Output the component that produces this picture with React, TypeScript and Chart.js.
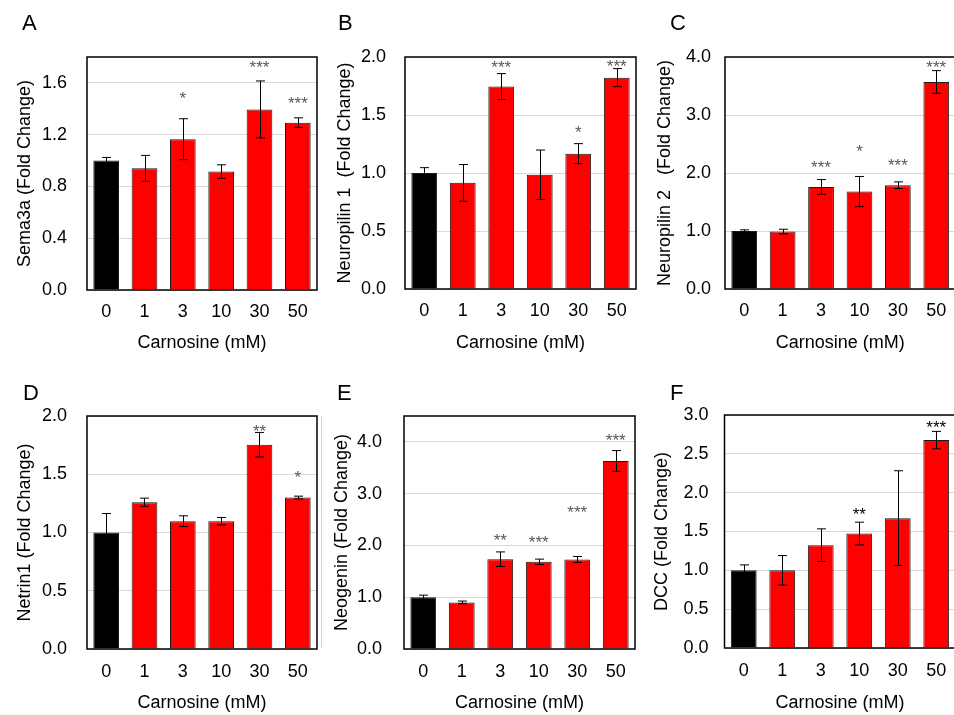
import React, { useEffect, useRef } from "react";
import { Chart, registerables } from "chart.js";

Chart.register(...registerables);

// ---------------- DATA ----------------
const categories = ["0", "1", "3", "10", "30", "50"];
const xAxisTitle = "Carnosine (mM)";

const semaValues = [1.0, 0.94, 1.165, 0.915, 1.395, 1.293];
const semaErrors = [0.024, 0.1, 0.158, 0.052, 0.22, 0.037];
const semaSig = ["", "", "*", "", "***", "***"];
const semaSigY = [null, null, 1.515, null, 1.755, 1.476];

const nrp1Values = [1.0, 0.915, 1.745, 0.985, 1.167, 1.822];
const nrp1Errors = [0.046, 0.158, 0.112, 0.213, 0.086, 0.078];
const nrp1Sig = ["", "", "***", "", "*", "***"];
const nrp1SigY = [null, null, 1.948, null, 1.383, 1.957];

const nrp2Values = [1.0, 0.99, 1.76, 1.68, 1.79, 3.57];
const nrp2Errors = [0.02, 0.04, 0.127, 0.26, 0.057, 0.195];
const nrp2Sig = ["", "", "***", "*", "***", "***"];
const nrp2SigY = [null, null, 2.16, 2.45, 2.2, 3.89];

const netrinValues = [1.0, 1.26, 1.097, 1.097, 1.754, 1.3];
const netrinErrors = [0.163, 0.035, 0.046, 0.032, 0.105, 0.012];
const netrinSig = ["", "", "", "", "**", "*"];
const netrinSigY = [null, null, null, null, 1.906, 1.506];

const neogeninValues = [1.0, 0.9, 1.735, 1.684, 1.729, 3.632];
const neogeninErrors = [0.04, 0.026, 0.14, 0.052, 0.058, 0.2];
const neogeninSig = ["", "", "**", "***", "***", "***"];
const neogeninSigY = [null, null, 2.17, 2.14, 2.72, 4.1];

const dccValues = [1.0, 1.0, 1.324, 1.474, 1.672, 2.677];
const dccErrors = [0.07, 0.19, 0.21, 0.146, 0.61, 0.112];
const dccSig = ["", "", "", "**", "", "***"];
const dccSigY = [null, null, null, 1.775, null, 2.89];

// ---------------- STYLE / LAYOUT ----------------
const FONT = "'Liberation Sans', Arial, Helvetica, sans-serif";
const baseFont = { family: FONT, size: 18 };

type PanelDef = {
  letter: string;
  yTitle: string;
  values: number[];
  errors: number[];
  sig: string[];
  sigY: (number | null)[];
  yMax: number;
  yStep: number;
  sigColor: string;
  // layout
  cx: number; cy: number; w: number; h: number;
  plotLeft: number; plotTop: number; plotRight: number; plotBottom: number;
  yTickPad: number; yTitlePad: number; xTickPad: number;
  letterX: number; letterY: number;
};

const panels: PanelDef[] = [
  {
    letter: "A", yTitle: "Sema3a (Fold Change)",
    values: semaValues, errors: semaErrors, sig: semaSig, sigY: semaSigY,
    yMax: 1.8, yStep: 0.4, sigColor: "#595959",
    cx: 0, cy: 0, w: 320, h: 355,
    plotLeft: 87, plotTop: 57, plotRight: 317, plotBottom: 290,
    yTickPad: 20, yTitlePad: 14, xTickPad: 11, letterX: 22, letterY: 30,
  },
  {
    letter: "B", yTitle: "Neuropilin 1  (Fold Change)",
    values: nrp1Values, errors: nrp1Errors, sig: nrp1Sig, sigY: nrp1SigY,
    yMax: 2.0, yStep: 0.5, sigColor: "#595959",
    cx: 320, cy: 0, w: 320, h: 355,
    plotLeft: 85, plotTop: 57, plotRight: 316, plotBottom: 289,
    yTickPad: 19, yTitlePad: 14, xTickPad: 11, letterX: 18, letterY: 30,
  },
  {
    letter: "C", yTitle: "Neuropilin 2   (Fold Change)",
    values: nrp2Values, errors: nrp2Errors, sig: nrp2Sig, sigY: nrp2SigY,
    yMax: 4.0, yStep: 1.0, sigColor: "#595959",
    cx: 640, cy: 0, w: 320, h: 355,
    plotLeft: 85, plotTop: 57, plotRight: 315.5, plotBottom: 289,
    yTickPad: 14, yTitlePad: 14, xTickPad: 11, letterX: 30, letterY: 30,
  },
  {
    letter: "D", yTitle: "Netrin1 (Fold Change)",
    values: netrinValues, errors: netrinErrors, sig: netrinSig, sigY: netrinSigY,
    yMax: 2.0, yStep: 0.5, sigColor: "#595959",
    cx: 0, cy: 355, w: 320, h: 360,
    plotLeft: 87, plotTop: 61, plotRight: 318, plotBottom: 294,
    yTickPad: 20, yTitlePad: 14, xTickPad: 12, letterX: 23, letterY: 45,
  },
  {
    letter: "E", yTitle: "Neogenin (Fold Change)",
    values: neogeninValues, errors: neogeninErrors, sig: neogeninSig, sigY: neogeninSigY,
    yMax: 4.5, yStep: 1.0, sigColor: "#595959",
    cx: 320, cy: 355, w: 320, h: 360,
    plotLeft: 84, plotTop: 61, plotRight: 315, plotBottom: 294,
    yTickPad: 22, yTitlePad: 11.7, xTickPad: 12, letterX: 17, letterY: 45,
  },
  {
    letter: "F", yTitle: "DCC (Fold Change)",
    values: dccValues, errors: dccErrors, sig: dccSig, sigY: dccSigY,
    yMax: 3.0, yStep: 0.5, sigColor: "#000000",
    cx: 640, cy: 355, w: 320, h: 360,
    plotLeft: 84.5, plotTop: 60, plotRight: 315.5, plotBottom: 293,
    yTickPad: 16, yTitlePad: 11.7, xTickPad: 12, letterX: 30, letterY: 45,
  },
];

function makeDecor(p: PanelDef) {
  return {
    id: "decor" + p.letter,
    afterDatasetsDraw(chart: any) {
      const ctx = chart.ctx as CanvasRenderingContext2D;
      const y = chart.scales.y;
      const meta = chart.getDatasetMeta(0);
      const area = chart.chartArea;
      ctx.save();
      // error bars
      ctx.strokeStyle = "#000000";
      ctx.lineWidth = 1;
      meta.data.forEach((bar: any, i: number) => {
        const x = Math.round(bar.x) + 0.5;
        const hi = y.getPixelForValue(p.values[i] + p.errors[i]);
        const lo = y.getPixelForValue(p.values[i] - p.errors[i]);
        ctx.beginPath();
        ctx.moveTo(x, lo);
        ctx.lineTo(x, hi);
        ctx.moveTo(x - 4.5, hi);
        ctx.lineTo(x + 4.5, hi);
        ctx.moveTo(x - 4.5, lo);
        ctx.lineTo(x + 4.5, lo);
        ctx.stroke();
      });
      // significance stars
      const fs = 17;
      ctx.fillStyle = p.sigColor;
      ctx.font = `${fs}px ${FONT}`;
      ctx.textAlign = "center";
      ctx.textBaseline = "alphabetic";
      meta.data.forEach((bar: any, i: number) => {
        const s = p.sig[i];
        const sy = p.sigY[i];
        if (!s || sy == null) return;
        const py = y.getPixelForValue(sy);
        ctx.fillText(s, bar.x, py + 0.575 * fs);
      });
      // plot frame
      ctx.strokeStyle = "#000000";
      ctx.lineWidth = 1.5;
      ctx.strokeRect(area.left, area.top, area.right - area.left, area.bottom - area.top);
      // panel letter
      ctx.fillStyle = "#000000";
      ctx.font = `22px ${FONT}`;
      ctx.textAlign = "left";
      ctx.fillText(p.letter, p.letterX, p.letterY);
      ctx.restore();
    },
  };
}

function PanelChart({ p }: { p: PanelDef }) {
  const ref = useRef<HTMLCanvasElement>(null);
  useEffect(() => {
    const canvas = ref.current!;
    const chart = new Chart(canvas, {
      type: "bar",
      data: {
        labels: categories,
        datasets: [
          {
            data: p.values,
            backgroundColor: categories.map((_, i) => (i === 0 ? "#000000" : "#ff0000")),
            borderColor: "#1a1a1a",
            borderWidth: 1,
            barPercentage: 0.67,
            categoryPercentage: 1,
          },
        ],
      },
      options: {
        responsive: false,
        animation: false,
        devicePixelRatio: 1,
        layout: { padding: { left: 0, top: p.plotTop, right: p.w - p.plotRight, bottom: 0 } },
        plugins: {
          legend: { display: false },
          tooltip: { enabled: false },
          title: { display: false },
        },
        scales: {
          x: {
            grid: { display: false, drawTicks: false },
            border: { display: false },
            ticks: { font: baseFont, color: "#000000", padding: p.xTickPad, maxRotation: 0, autoSkip: false },
            title: { display: true, text: xAxisTitle, font: baseFont, color: "#000000", padding: { top: 0, bottom: 1 } },
            afterFit: (s: any) => {
              s.height = p.h - p.plotBottom;
            },
          },
          y: {
            min: 0,
            max: p.yMax,
            grid: { color: "#d9d9d9", lineWidth: 1, drawTicks: false },
            border: { display: false },
            ticks: {
              stepSize: p.yStep,
              includeBounds: false,
              padding: p.yTickPad,
              font: baseFont,
              color: "#000000",
              callback: (v: any) => Number(v).toFixed(1),
            },
            title: { display: true, text: p.yTitle, font: baseFont, color: "#000000", padding: { top: p.yTitlePad, bottom: 0 } },
            afterFit: (s: any) => {
              s.width = p.plotLeft;
            },
          },
        },
      } as any,
      plugins: [makeDecor(p)],
    });
    return () => chart.destroy();
  }, [p]);
  return (
    <canvas
      ref={ref}
      width={p.w}
      height={p.h}
      style={{ position: "absolute", left: p.cx, top: p.cy, width: p.w, height: p.h }}
    />
  );
}

export default function App() {
  return (
    <div
      style={{
        position: "fixed",
        left: 0,
        top: 0,
        width: 954,
        height: 715,
        overflow: "hidden",
        background: "#ffffff",
      }}
    >
      {panels.map((p) => (
        <PanelChart key={p.letter} p={p} />
      ))}
      <div style={{ position: "absolute", left: 321, top: 416, width: 1, height: 232, background: "#d4d4d4" }} />
    </div>
  );
}
